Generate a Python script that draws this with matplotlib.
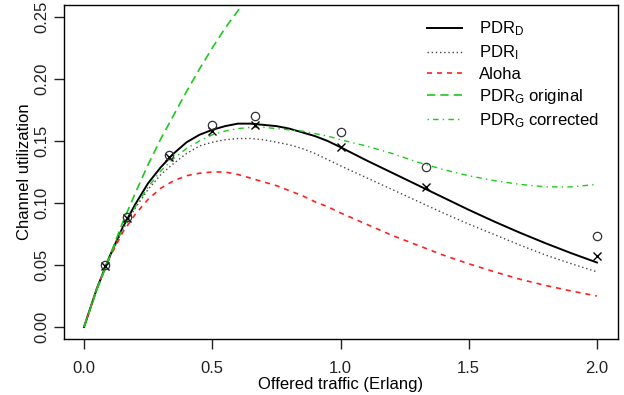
import matplotlib
matplotlib.use("Agg")
import matplotlib.pyplot as plt

plt.rcParams['font.family'] = ['Liberation Sans', 'DejaVu Sans']
plt.rcParams['mathtext.fontset'] = 'custom'
plt.rcParams['mathtext.rm'] = 'Liberation Sans'
plt.rcParams['mathtext.it'] = 'Liberation Sans:italic'

# ---- data ----
g = [0.0, 0.05, 0.1, 0.15, 0.2, 0.25, 0.3, 0.35, 0.4, 0.45, 0.5,
     0.55, 0.6, 0.65, 0.7, 0.75, 0.8, 0.85, 0.9, 0.95, 1.0,
     1.1, 1.2, 1.3, 1.4, 1.5, 1.6, 1.7, 1.8, 1.9, 2.0]
pdr_d = [0.0, 0.031, 0.057, 0.080, 0.099, 0.116, 0.129, 0.140, 0.149, 0.155, 0.159,
         0.162, 0.164, 0.164, 0.163, 0.162, 0.160, 0.157, 0.154, 0.150, 0.145,
         0.1345, 0.1245, 0.1145, 0.1045, 0.0945, 0.085, 0.076, 0.0675, 0.0595, 0.052]
pdr_i = [0.0, 0.030, 0.056, 0.078, 0.096, 0.111, 0.123, 0.132, 0.140, 0.146, 0.149,
         0.151, 0.152, 0.152, 0.151, 0.149, 0.147, 0.144, 0.140, 0.135, 0.130,
         0.1205, 0.111, 0.1015, 0.092, 0.083, 0.0745, 0.066, 0.058, 0.051, 0.0445]
aloha = [0.0, 0.031, 0.056, 0.076, 0.091, 0.103, 0.112, 0.118, 0.122, 0.124, 0.125,
         0.125, 0.123, 0.120, 0.117, 0.114, 0.110, 0.106, 0.101, 0.097, 0.092,
         0.083, 0.074, 0.066, 0.058, 0.051, 0.0445, 0.0385, 0.0335, 0.029, 0.025]
pdr_g_corr = [0.0, 0.031, 0.057, 0.079, 0.097, 0.113, 0.126, 0.136, 0.144, 0.150, 0.155,
              0.158, 0.160, 0.161, 0.161, 0.160, 0.159, 0.158, 0.156, 0.154, 0.151,
              0.146, 0.140, 0.133, 0.127, 0.122, 0.118, 0.115, 0.113, 0.113, 0.115]
g_orig = [0.0, 0.05, 0.1, 0.15, 0.2, 0.25, 0.3, 0.35, 0.4, 0.45, 0.5, 0.55, 0.6, 0.65, 0.7]
pdr_g_orig = [0.0, 0.030, 0.057, 0.084, 0.108, 0.131, 0.152, 0.171, 0.190, 0.208, 0.225,
              0.241, 0.255, 0.269, 0.282]

sim_x = [0.083, 0.167, 0.333, 0.5, 0.667, 1.0, 1.333, 2.0]
sim_cross = [0.049, 0.088, 0.137, 0.158, 0.163, 0.145, 0.113, 0.057]
sim_circle = [0.050, 0.089, 0.139, 0.163, 0.170, 0.157, 0.129, 0.073]

xticks = [0.0, 0.5, 1.0, 1.5, 2.0]
yticks = [0.00, 0.05, 0.10, 0.15, 0.20, 0.25]

FS = 12
fig = plt.figure(figsize=(6.24, 3.95), dpi=100)
ax = fig.add_axes([63.5 / 624, 1 - 339.4 / 395, (617.5 - 63.5) / 624, (339.4 - 4.6) / 395])

green = '#1ec81e'
ax.plot(g, pdr_d, color='black', lw=1.4, label=r'PDR$_\mathrm{D}$')
ax.plot(g, pdr_i, color='#444444', lw=1.0, linestyle=(0, (1, 2)), label=r'PDR$_\mathrm{I}$')
ax.plot(g, aloha, color='#ff2020', lw=1.2, linestyle=(0, (3, 3)), label='Aloha')
ax.plot(g_orig, pdr_g_orig, color=green, lw=1.2, linestyle=(0, (5, 3)), label=r'PDR$_\mathrm{G}$ original')
ax.plot(g, pdr_g_corr, color=green, lw=1.0, linestyle=(0, (1, 3, 4, 3)), label=r'PDR$_\mathrm{G}$ corrected')

ax.plot(sim_x, sim_cross, linestyle='none', marker='x', color='black', markersize=5.5, mew=1.0)
ax.plot(sim_x, sim_circle, linestyle='none', marker='o', mfc='none', mec='#333333', markersize=6, mew=0.9)

ax.set_xlim(-0.08, 2.08)
ax.set_ylim(-0.01, 0.26)
ax.set_xticks(xticks)
ax.set_xticklabels([f'{v:.1f}' for v in xticks])
ax.set_yticks(yticks)
ax.set_yticklabels([f'{v:.2f}' for v in yticks], rotation=90, va='center')
ax.tick_params(direction='out', length=7, width=1, labelsize=FS, colors='#222222')
ax.tick_params(axis='x', pad=8.5)
ax.tick_params(axis='y', pad=3.5)
for s in ax.spines.values():
    s.set_linewidth(1.0)
ax.set_xlabel('Offered traffic (Erlang)', fontsize=FS, labelpad=0.5)
ax.set_ylabel('Channel utilization', fontsize=FS, labelpad=1.5)

ax.legend(loc='upper left', frameon=False, fontsize=FS, handlelength=2.1,
          handletextpad=1.0, labelspacing=0.3, borderpad=0.0, borderaxespad=0.0,
          bbox_to_anchor=(0.656, 0.955))

fig.savefig('out.png', dpi=100)
